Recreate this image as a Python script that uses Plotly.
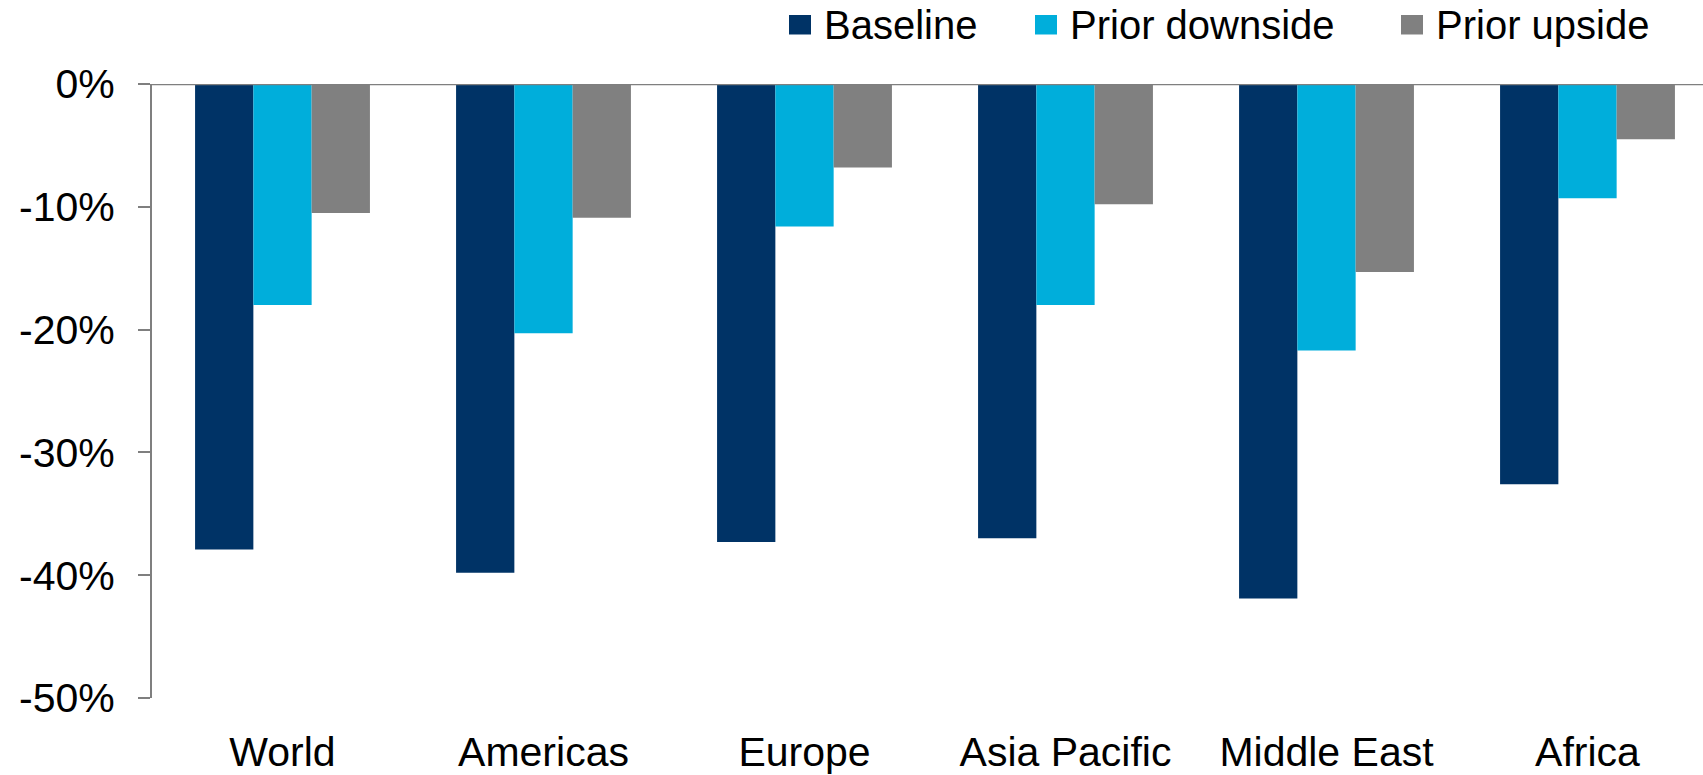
import plotly.graph_objects as go

# Change in value by region under each scenario (percent)
regions = ["World", "Americas", "Europe", "Asia Pacific", "Middle East", "Africa"]
baseline = [-37.9, -39.8, -37.3, -37.0, -41.9, -32.6]
prior_downside = [-18.0, -20.3, -11.6, -18.0, -21.7, -9.3]
prior_upside = [-10.5, -10.9, -6.8, -9.8, -15.3, -4.5]

series_names = ["Baseline", "Prior downside", "Prior upside"]
series_values = [baseline, prior_downside, prior_upside]
series_colors = ["#003366", "#00AEDB", "#808080"]

y_tick_values = [0, -10, -20, -30, -40, -50]
y_tick_labels = ["0%", "-10%", "-20%", "-30%", "-40%", "-50%"]

# Figure geometry (pixels)
W, H = 1703, 775
PLOT_L, PLOT_R, PLOT_T, PLOT_B = 152, 1703, 84, 698
AXIS_GREY = "#7F7F7F"
FONT = "Liberation Sans, Arial, sans-serif"


def px_x(p):
    return (p - PLOT_L) / (PLOT_R - PLOT_L)


def px_y(p):
    return (PLOT_B - p) / (PLOT_B - PLOT_T)


fig = go.Figure()
for name, vals, color in zip(series_names, series_values, series_colors):
    fig.add_trace(go.Bar(
        x=regions, y=vals, name=name,
        marker=dict(color=color, line=dict(width=0)),
        showlegend=False,
    ))

# Zero reference line across the full plot width
fig.add_shape(type="line", xref="paper", yref="y", x0=0, x1=1, y0=0, y1=0,
              line=dict(color=AXIS_GREY, width=2.5), layer="above")

# Legend drawn as coloured squares with labels above the plot
legend_items = [
    (789, 822),    # (square left, text left) for each series
    (1035, 1068),
    (1401, 1434),
]
for (sq_left, txt_left), name, color in zip(legend_items, series_names, series_colors):
    fig.add_shape(type="rect", xref="paper", yref="paper",
                  x0=px_x(sq_left), x1=px_x(sq_left + 22),
                  y0=px_y(34.5), y1=px_y(15),
                  fillcolor=color, line=dict(width=0))
    fig.add_annotation(xref="paper", yref="paper",
                       x=px_x(txt_left), y=px_y(25),
                       xanchor="left", yanchor="middle",
                       text=name, showarrow=False,
                       font=dict(family=FONT, size=40, color="black"))

fig.update_layout(
    width=W, height=H,
    margin=dict(l=PLOT_L, r=W - PLOT_R, t=PLOT_T, b=H - PLOT_B, pad=0),
    paper_bgcolor="white", plot_bgcolor="white",
    barmode="group", bargap=0.33, bargroupgap=0,
    font=dict(family=FONT, size=41, color="black"),
    showlegend=False,
)
fig.update_xaxes(
    type="category",
    range=[-0.5, -0.5 + (PLOT_R - PLOT_L) / 261.0],
    showline=False, showgrid=False, zeroline=False, ticks="",
    tickfont=dict(family=FONT, size=41, color="black"),
    ticklabelstandoff=26,
)
fig.update_yaxes(
    range=[-50, 0],
    tickvals=y_tick_values, ticktext=y_tick_labels,
    showgrid=False, zeroline=False,
    showline=True, linecolor=AXIS_GREY, linewidth=2,
    ticks="outside", ticklen=12, tickwidth=2, tickcolor=AXIS_GREY,
    tickfont=dict(family=FONT, size=41, color="black"),
    ticklabelstandoff=15,
)

fig.write_html("out.html")
